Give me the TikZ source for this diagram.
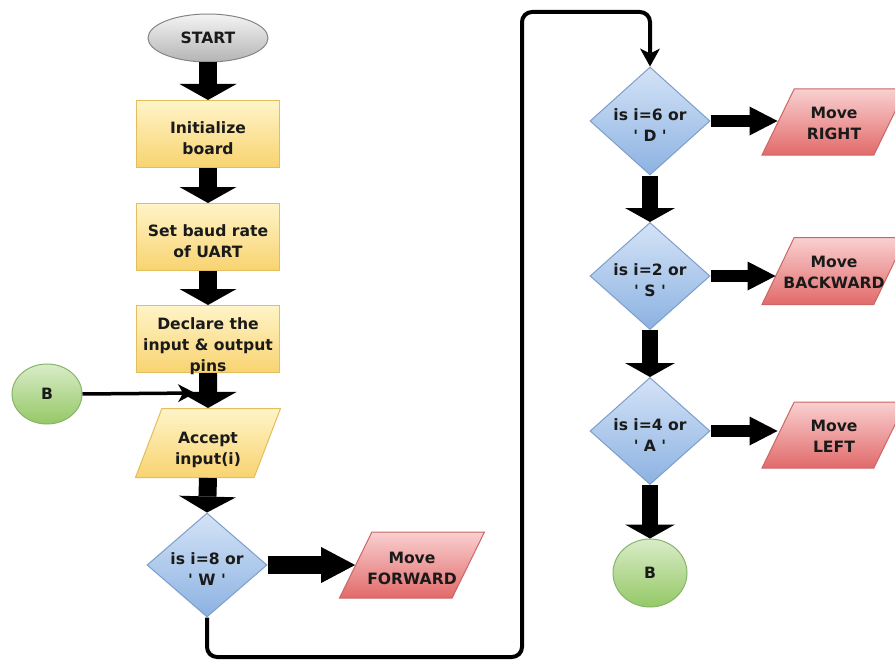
\documentclass[tikz,border=0pt]{standalone}
\usepackage{fontspec}
\setmainfont{DejaVu Sans}[Ligatures=TeXOff]
\usetikzlibrary{shapes.geometric,arrows.meta}
\definecolor{ytop}{HTML}{FFF4C8}
\definecolor{ybot}{HTML}{F8D370}
\definecolor{yborder}{HTML}{E2BE5C}
\definecolor{btop}{HTML}{D4E3F6}
\definecolor{bbot}{HTML}{8CB2E2}
\definecolor{bborder}{HTML}{7D9ECB}
\definecolor{rtop}{HTML}{F9D0D0}
\definecolor{rbot}{HTML}{E26A6A}
\definecolor{rborder}{HTML}{CC6666}
\definecolor{gtop}{HTML}{D9ECC8}
\definecolor{gbot}{HTML}{95C866}
\definecolor{gborder}{HTML}{86B56A}
\definecolor{etop}{HTML}{F4F4F4}
\definecolor{ebot}{HTML}{B4B4B4}
\definecolor{eborder}{HTML}{858585}
\definecolor{txt}{HTML}{1A1A1A}
\newcommand\zt[2][9pt]{\raisebox{0pt}[0.5pt][0.5pt]{\makebox[1pt]{\raisebox{-#1}{\begin{tabular}{@{}c@{}}#2\end{tabular}}}}}
\begin{document}
\begin{tikzpicture}[x=1pt,y=-1pt,
  every node/.style={font=\fontsize{15.6}{21}\selectfont\bfseries, text=txt, inner sep=0pt, line width=1pt},
  startnode/.style={ellipse, draw=eborder, top color=etop, bottom color=ebot, minimum width=120pt, minimum height=48pt},
  procbox/.style={rectangle, draw=yborder, top color=ytop, bottom color=ybot, minimum width=143pt, minimum height=67pt},
  inbox/.style={trapezium, trapezium left angle=74, trapezium right angle=106, trapezium stretches=true, draw=yborder, top color=ytop, bottom color=ybot, minimum width=145pt, minimum height=69pt},
  movebox/.style={trapezium, trapezium left angle=68, trapezium right angle=112, trapezium stretches=true, draw=rborder, top color=rtop, bottom color=rbot, minimum width=144pt, minimum height=66pt},
  decision/.style={diamond, draw=bborder, top color=btop, bottom color=bbot, minimum width=120pt, minimum height=107pt},
  connector/.style={ellipse, draw=gborder, top color=gtop, bottom color=gbot},
  bigv/.style={line width=18pt, -{Triangle[width=57pt,length=16pt,line width=0pt]}},
  smallv/.style={line width=16pt, -{Triangle[width=50pt,length=14pt,line width=0pt]}},
  bigh/.style={line width=18pt, -{Triangle[width=36pt,length=34pt,line width=0pt]}},
  smallh/.style={line width=12pt, -{Triangle[width=29pt,length=28pt,line width=0pt]}},
  thinarrow/.style={line width=3.5pt, -{Stealth[length=17pt,width=18pt,inset=5pt,line width=0pt]}},
  loopline/.style={line width=4pt, rounded corners=10pt, -{Stealth[length=18pt,width=20pt,inset=5pt,line width=0pt]}}
]
\useasboundingbox (0,0) rectangle (895,661);
\fill[white] (0,0) rectangle (895,661);

\node[startnode] (start) at (208,38) {\zt[5pt]{START}};
\node[procbox] (init) at (208,134) {\zt{Initialize\\board}};
\node[procbox] (baud) at (208,237) {\zt{Set baud rate\\of UART}};
\node[procbox] (decl) at (208,339) {\zt[11pt]{Declare the\\input \& output\\pins}};
\node[inbox] (accept) at (208,443) {\zt[10pt]{Accept\\input(i)}};
\node[decision, minimum height=104pt] (dW) at (207,565) {\zt{is i=8 or\\' W '}};
\node[movebox, minimum width=145pt] (fwd) at (412,565) {\zt[8pt]{Move\\FORWARD}};

\node[decision, minimum height=108pt] (dD) at (650,121) {\zt{is i=6 or\\' D '}};
\node[decision] (dS) at (650,276) {\zt{is i=2 or\\' S '}};
\node[decision] (dA) at (650,431) {\zt{is i=4 or\\' A '}};
\node[movebox] (mright) at (834,122) {\zt[6pt]{Move\\RIGHT}};
\node[movebox, minimum height=67pt] (mback) at (834,271) {\zt[6pt]{Move\\BACKWARD}};
\node[movebox] (mleft) at (834,435) {\zt[6pt]{Move\\LEFT}};

\node[connector, minimum width=70pt, minimum height=60pt] (B1) at (47,394) {\zt[5pt]{B}};
\node[connector, minimum width=74pt, minimum height=68pt] (B2) at (650,573) {\zt[5pt]{B}};
\coordinate (join) at (195,393);

\draw[bigv] (start.south) -- (init.north);
\draw[bigv] (init.south) -- (baud.north);
\draw[bigv] (baud.south) -- (decl.north);
\draw[bigv] (decl.south) -- (accept.north);
\draw[bigv] (accept.south) -- (dW.north);
\draw[bigh] (dW.east) -- (fwd.west);
\draw[thinarrow] (B1.east) -- (join);

\draw[smallv] (dD.south) -- (dS.north);
\draw[smallv] (dS.south) -- (dA.north);
\draw[smallv] (dA.south) -- (B2.north);
\draw[smallh] (dD.east) -- (dD.east -| mright.west);
\draw[smallh] (dS.east) -- ([xshift=-2pt]dS.east -| mback.west);
\draw[smallh] (dA.east) -- (dA.east -| mleft.west);

\draw[loopline] (dW.south) -- (dW.south |- 0,657) -- (522,657) -- (522,12) -- (dD.north |- 0,12) -- (dD.north);
\end{tikzpicture}
\end{document}
